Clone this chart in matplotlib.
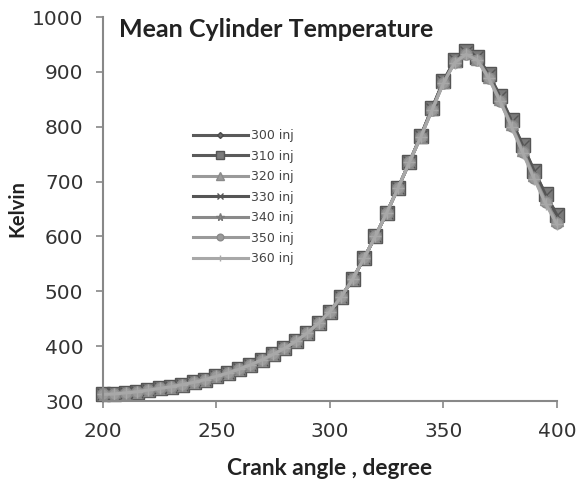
import matplotlib
matplotlib.use("Agg")
import matplotlib.pyplot as plt

crank_angle = [200, 205, 210, 215, 220, 225, 230, 235, 240, 245,
               250, 255, 260, 265, 270, 275, 280, 285, 290, 295,
               300, 305, 310, 315, 320, 325, 330, 335, 340, 345,
               350, 355, 360, 365, 370, 375, 380, 385, 390, 395, 400]

temp_300 = [312, 313, 315, 317, 320, 323, 326, 330, 334, 339,
            345, 351, 358, 366, 375, 385, 396, 409, 424, 442,
            463, 490, 522, 560, 600, 643, 688, 735, 783, 833,
            882, 920, 936, 925, 893, 852, 808, 762, 716, 673, 636]
temp_310 = [312, 313, 315, 317, 320, 323, 326, 330, 334, 339,
            345, 351, 358, 366, 375, 385, 396, 409, 424, 442,
            463, 490, 522, 560, 600, 643, 688, 735, 783, 834,
            883, 922, 938, 928, 896, 856, 812, 766, 720, 677, 640]
temp_320 = [312, 313, 315, 317, 320, 323, 326, 330, 334, 339,
            345, 351, 358, 366, 375, 385, 396, 409, 424, 442,
            463, 490, 522, 560, 600, 643, 688, 735, 782, 832,
            881, 919, 935, 924, 891, 850, 805, 758, 712, 668, 630]
temp_330 = [312, 313, 315, 317, 320, 323, 326, 330, 334, 339,
            345, 351, 358, 366, 375, 385, 396, 409, 424, 442,
            463, 490, 522, 560, 600, 643, 688, 735, 783, 833,
            883, 921, 937, 927, 895, 855, 811, 765, 719, 676, 639]
temp_340 = [312, 313, 315, 317, 320, 323, 326, 330, 334, 339,
            345, 351, 358, 366, 375, 385, 396, 409, 424, 442,
            463, 490, 522, 560, 600, 643, 688, 735, 782, 831,
            880, 918, 934, 923, 890, 848, 803, 756, 709, 665, 627]
temp_350 = [312, 313, 315, 317, 320, 323, 326, 330, 334, 339,
            345, 351, 358, 366, 375, 385, 396, 409, 424, 442,
            463, 490, 522, 560, 600, 643, 688, 735, 781, 831,
            880, 918, 933, 922, 889, 847, 801, 754, 707, 662, 624]
temp_360 = [312, 313, 315, 317, 320, 323, 326, 330, 334, 339,
            345, 351, 358, 366, 375, 385, 396, 409, 424, 442,
            463, 490, 522, 560, 600, 643, 688, 735, 781, 830,
            879, 917, 932, 921, 888, 846, 800, 752, 705, 660, 622]

series_labels = ["300 inj", "310 inj", "320 inj", "330 inj", "340 inj", "350 inj", "360 inj"]
series_values = [temp_300, temp_310, temp_320, temp_330, temp_340, temp_350, temp_360]
x_ticks = [200, 250, 300, 350, 400]
y_ticks = [300, 400, 500, 600, 700, 800, 900, 1000]

styles = [
    dict(color="#5a5a5a", marker="D", ms=5, mfc="#6a6a6a", mec="#4a4a4a"),
    dict(color="#5a5a5a", marker="s", ms=9.5, mfc="#7a7a7a", mec="#555555"),
    dict(color="#9a9a9a", marker="^", ms=9, mfc="#9a9a9a", mec="#8a8a8a"),
    dict(color="#555555", marker="x", ms=8, mfc="#555555", mec="#555555"),
    dict(color="#8a8a8a", marker="*", ms=9, mfc="#8a8a8a", mec="#7a7a7a"),
    dict(color="#9a9a9a", marker="o", ms=8, mfc="#9a9a9a", mec="#8a8a8a"),
    dict(color="#a8a8a8", marker="+", ms=8, mfc="#a8a8a8", mec="#a8a8a8"),
]

fig = plt.figure(figsize=(5.78, 4.82), dpi=100)
ax = fig.add_axes([0.178, 0.168, 0.7855, 0.7967])

for label, vals, st in zip(series_labels, series_values, styles):
    ax.plot(crank_angle, vals, color=st["color"], lw=2.2, marker=st["marker"],
            markersize=st["ms"], markerfacecolor=st["mfc"], markeredgecolor=st["mec"],
            markeredgewidth=1.0, label=label, clip_on=False)

ax.set_xlim(200, 400)
ax.set_ylim(300, 1000)
ax.set_xticks(x_ticks)
ax.set_yticks(y_ticks)
ax.tick_params(axis="both", direction="out", length=5, color="#888888", width=1.2,
               labelsize=14.5, labelcolor="#333333")
ax.tick_params(axis="x", pad=10)
ax.tick_params(axis="y", pad=9)
for s in ["top", "right"]:
    ax.spines[s].set_visible(False)
for s in ["left", "bottom"]:
    ax.spines[s].set_color("#888888")
    ax.spines[s].set_linewidth(1.5)

ax.set_xlabel("Crank angle , degree", fontsize=16.4, fontweight="bold", color="#222222",
              family="Lato", labelpad=12)
ax.set_ylabel("Kelvin", fontsize=14.5, fontweight="bold", color="#222222",
              family="Lato", labelpad=3)

fig.text(0.206, 0.938, "Mean Cylinder Temperature", fontsize=18, fontweight="bold",
         color="#222222", va="center", ha="left", family="Lato")

leg = ax.legend(loc="upper left", bbox_to_anchor=(0.198, 0.708), frameon=False,
                fontsize=9, handlelength=4.4, labelspacing=0.6, markerscale=0.6,
                handletextpad=0.25, borderaxespad=0, borderpad=0)
for t in leg.get_texts():
    t.set_color("#444444")

fig.savefig("out.png", dpi=100)
